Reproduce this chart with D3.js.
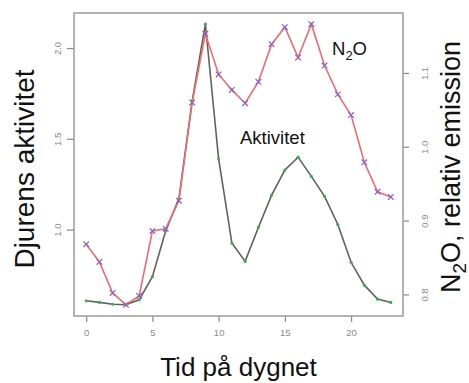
<!DOCTYPE html>
<html>
<head>
<meta charset="utf-8">
<script src="https://cdn.jsdelivr.net/npm/d3@7"></script>
<style>
	body { margin: 0; background: #fff; }
	text { font-family: "Liberation Sans", Arial, sans-serif; }
</style>
</head>
<body>
<svg id="chart"></svg>
<script>
// timmar på dygnet
var hours = [0, 1, 2, 3, 4, 5, 6, 7, 8, 9, 10, 11, 12, 13, 14, 15, 16, 17, 18, 19, 20, 21, 22, 23];
// djurens aktivitet (vänster axel)
var activity = [0.608, 0.599, 0.589, 0.586, 0.613, 0.741, 0.992, 1.171, 1.708, 2.131, 1.389, 0.926,
	0.825, 1.012, 1.190, 1.328, 1.399, 1.293, 1.183, 1.028, 0.820, 0.694, 0.617, 0.599];
// N2O, relativ emission (höger axel)
var n2o = [0.868, 0.844, 0.802, 0.786, 0.798, 0.886, 0.889, 0.927, 1.060, 1.153, 1.098, 1.077,
	1.059, 1.088, 1.139, 1.162, 1.121, 1.166, 1.110, 1.071, 1.043, 0.979, 0.939, 0.932];
var xTicks = [0, 5, 10, 15, 20];
var leftTicks = [1.0, 1.5, 2.0];
var rightTicks = [0.8, 0.9, 1.0, 1.1];

var W = 469, H = 383;
var box = {left: 74, right: 403, top: 13, bottom: 316};

// R-style axis range: data range extended by 4 %
function pad(ext) {
	var d = (ext[1] - ext[0]) * 0.04;
	return [ext[0] - d, ext[1] + d];
}

var x = d3.scaleLinear().domain(pad(d3.extent(hours))).range([box.left, box.right]);
var yL = d3.scaleLinear().domain(pad(d3.extent(activity))).range([box.bottom, box.top]);
var yR = d3.scaleLinear().domain(pad(d3.extent(n2o))).range([box.bottom, box.top]);

var svg = d3.select('#chart')
	.attr('width', W)
	.attr('height', H);

var tickColor = '#8a8a8a';

// axes
var gx = svg.append('g')
	.attr('transform', 'translate(0,' + box.bottom + ')')
	.call(d3.axisBottom(x).tickValues(xTicks).tickSize(6).tickPadding(7).tickFormat(d3.format('d')));
var gl = svg.append('g')
	.attr('transform', 'translate(' + box.left + ',0)')
	.call(d3.axisLeft(yL).tickValues(leftTicks).tickSize(7).tickFormat(d3.format('.1f')));
var gr = svg.append('g')
	.attr('transform', 'translate(' + box.right + ',0)')
	.call(d3.axisRight(yR).tickValues(rightTicks).tickSize(6).tickFormat(d3.format('.1f')));

[gx, gl, gr].forEach(function(g) {
	g.select('.domain').remove();
	g.selectAll('.tick line').attr('stroke', tickColor).attr('stroke-width', 1.2);
	g.selectAll('.tick text')
		.attr('fill', tickColor)
		.style('font-size', '9.5px')
		.style('font-family', '"Liberation Sans", Arial, sans-serif');
});

// rotated y tick labels, as in R (las = 0)
gl.selectAll('.tick text')
	.attr('x', null).attr('dy', null)
	.attr('text-anchor', 'middle')
	.attr('transform', 'translate(-13,0) rotate(-90)');
gr.selectAll('.tick text')
	.attr('x', null).attr('dy', null)
	.attr('text-anchor', 'middle')
	.attr('transform', 'translate(25,0) rotate(-90)');

// plot box
svg.append('rect')
	.attr('x', box.left)
	.attr('y', box.top)
	.attr('width', box.right - box.left)
	.attr('height', box.bottom - box.top)
	.attr('fill', 'none')
	.attr('stroke', '#9a9a9a')
	.attr('stroke-width', 1.5);

// activity line
var actLine = d3.line()
	.x(function(d, i) { return x(hours[i]); })
	.y(function(d) { return yL(d); });
svg.append('path')
	.datum(activity)
	.attr('d', actLine)
	.attr('fill', 'none')
	.attr('stroke', '#5b635b')
	.attr('stroke-width', 1.6);
svg.selectAll('.actpt')
	.data(activity)
	.enter().append('circle')
	.attr('class', 'actpt')
	.attr('cx', function(d, i) { return x(hours[i]); })
	.attr('cy', function(d) { return yL(d); })
	.attr('r', 1.6)
	.attr('fill', '#3fae4a');

// N2O line
var n2oLine = d3.line()
	.x(function(d, i) { return x(hours[i]); })
	.y(function(d) { return yR(d); });
svg.append('path')
	.datum(n2o)
	.attr('d', n2oLine)
	.attr('fill', 'none')
	.attr('stroke', '#f06a6e')
	.attr('stroke-width', 1.6);
var s = 2.8;
svg.selectAll('.n2opt')
	.data(n2o)
	.enter().append('path')
	.attr('class', 'n2opt')
	.attr('transform', function(d, i) { return 'translate(' + x(hours[i]) + ',' + yR(d) + ')'; })
	.attr('d', 'M' + -s + ',' + -s + 'L' + s + ',' + s + 'M' + -s + ',' + s + 'L' + s + ',' + -s)
	.attr('stroke', '#8a5fd0')
	.attr('stroke-width', 1.2);

// series labels
var lab1 = svg.append('text')
	.attr('x', 332)
	.attr('y', 55)
	.style('font-size', '18.5px')
	.attr('fill', '#111');
lab1.append('tspan').text('N');
lab1.append('tspan').attr('dy', 5).style('font-size', '13px').text('2');
lab1.append('tspan').attr('dy', -5).text('O');

svg.append('text')
	.attr('x', 240)
	.attr('y', 143.5)
	.style('font-size', '18.5px')
	.attr('fill', '#111')
	.text('Aktivitet');

// axis titles
svg.append('text')
	.attr('x', (box.left + box.right) / 2)
	.attr('y', 376)
	.attr('text-anchor', 'middle')
	.style('font-size', '26px')
	.attr('fill', '#111')
	.text('Tid på dygnet');

svg.append('text')
	.attr('transform', 'translate(33.5,169) rotate(-90)')
	.attr('text-anchor', 'middle')
	.style('font-size', '28px')
	.attr('fill', '#111')
	.text('Djurens aktivitet');

var rt = svg.append('text')
	.attr('transform', 'translate(460,167) rotate(-90)')
	.attr('text-anchor', 'middle')
	.style('font-size', '27px')
	.attr('fill', '#111');
rt.append('tspan').text('N');
rt.append('tspan').attr('dy', 6).style('font-size', '19px').text('2');
rt.append('tspan').attr('dy', -6).text('O, relativ emission');
</script>
</body>
</html>
